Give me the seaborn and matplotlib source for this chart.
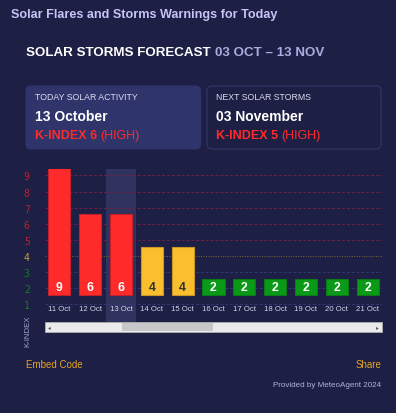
import matplotlib
matplotlib.use("Agg")
import matplotlib.pyplot as plt
from matplotlib.patches import FancyBboxPatch, Rectangle
import seaborn as sns

# data
dates = ['11 Oct', '12 Oct', '13 Oct', '14 Oct', '15 Oct', '16 Oct',
         '17 Oct', '18 Oct', '19 Oct', '20 Oct', '21 Oct']
kindex = [9, 6, 6, 4, 4, 2, 2, 2, 2, 2, 2]
levels = [1, 2, 3, 4, 5, 6, 7, 8, 9]
today_date = '13 October'
today_k = 6
next_date = '03 November'
next_k = 5

BG = '#1d1f44'
RED = '#ff2b2b'
YEL = '#fbbe2c'
GRN = '#0b9a18'
EDGE = {RED: '#c4202c', YEL: '#c9962a', GRN: '#0a7a16'}

def level_colour(k):
    if k >= 5:
        return RED
    if k == 4:
        return YEL
    return GRN

sns.set_theme(style='dark')
plt.rcParams['font.family'] = ['Liberation Sans', 'DejaVu Sans']

W, H = 396, 414
fig = plt.figure(figsize=(W / 100, H / 100), dpi=100)
fig.patch.set_facecolor(BG)

def fx(x):
    return x / W

def fy(y):
    return 1 - y / H

# header texts
fig.text(fx(11), fy(15), 'Solar Flares and Storms Warnings for Today', color='#c6c4f6',
         fontsize=9.1, fontweight='semibold', va='center')

renderer = fig.canvas.get_renderer()

def text_after(t, s, gap=3, **kw):
    bb = t.get_window_extent(renderer)
    x = (bb.x1 + gap) / W
    return fig.text(x, t.get_position()[1], s, va='center', **kw)

t = fig.text(fx(26), fy(53), 'SOLAR STORMS FORECAST', color='white', fontsize=9.6,
             fontweight='bold', va='center')
text_after(t, '03 OCT \u2013 13 NOV', gap=4, color='#a9addf', fontsize=9.6, fontweight='bold')

# info boxes
box1 = FancyBboxPatch((fx(26), fy(150)), fx(200.5) - fx(26), fy(87) - fy(150),
                      boxstyle='round,pad=0,rounding_size=0.012', transform=fig.transFigure,
                      facecolor='#2f346b', edgecolor='#2f346b', linewidth=0.8)
box2 = FancyBboxPatch((fx(207), fy(150)), fx(381) - fx(207), fy(87) - fy(150),
                      boxstyle='round,pad=0,rounding_size=0.012', transform=fig.transFigure,
                      facecolor=BG, edgecolor='#2f3466', linewidth=0.9)
fig.add_artist(box1)
fig.add_artist(box2)

for x0, head, date, k in [(35, 'TODAY SOLAR ACTIVITY', today_date, today_k),
                          (216, 'NEXT SOLAR STORMS', next_date, next_k)]:
    fig.text(fx(x0), fy(98), head, color='#dcdcf0', fontsize=6.3, va='center')
    fig.text(fx(x0), fy(117), date, color='white', fontsize=10, fontweight='bold', va='center')
    kt = fig.text(fx(x0), fy(136), f'K-INDEX {k}', color=RED, fontsize=9,
                  fontweight='bold', va='center')
    text_after(kt, '(HIGH)', gap=3, color=RED, fontsize=9)

# chart
ax = fig.add_axes([fx(45), fy(323), fx(382) - fx(45), fy(170) - fy(323)])
ax.set_facecolor(BG)

grid_cols = {1: '#2f3a6e', 2: '#2f3a6e', 3: '#2f3a6e', 4: '#7a6a30',
             5: '#6b2243', 6: '#6b2243', 7: '#6b2243', 8: '#6b2243', 9: '#6b2243'}
for lv in levels:
    ls = (0, (1, 1.5)) if lv == 4 else (0, (3, 2))
    ax.axhline(lv, color=grid_cols[lv], lw=0.7, linestyle=ls, zorder=1)

colours = [level_colour(k) for k in kindex]
base = 1.58
heights = [k - 1 for k in kindex]
sns.barplot(x=dates, y=heights, hue=dates, palette=colours, legend=False,
            width=0.715, bottom=base, saturation=1, ax=ax, zorder=2, linewidth=0.8)
for p, c in zip(ax.patches, colours):
    p.set_edgecolor(EDGE[c])

# highlight of today's column
ax.axvspan(1.5, 2.5, color='#363a66', alpha=0.75, zorder=0, lw=0)
ax.set_xlim(-0.47, 10.47)
ax.set_ylim(-0.1, 9.4)

for i, k in enumerate(kindex):
    tc = '#333333' if colours[i] == YEL else 'white'
    ax.text(i, 2.07, str(k), ha='center', va='center', color=tc, fontsize=8.8,
            fontweight='bold', zorder=3)
    ax.text(i, 0.72, dates[i], ha='center', va='center', color='#d2d5ee', fontsize=5.6,
            zorder=3)

ax.set_xticks([])
ax.set_yticks(levels)
ax.set_yticklabels([str(v) for v in levels], family='DejaVu Sans Mono', fontsize=7)
for lbl, lv in zip(ax.get_yticklabels(), levels):
    lbl.set_color('#b8222e' if lv >= 5 else ('#c9a23a' if lv == 4 else '#177a26'))
ax.tick_params(axis='y', length=0, pad=11)
ax.set_xlabel('')
ax.set_ylabel('')
for s in ax.spines.values():
    s.set_visible(False)
ax.grid(False)

# scrollbar
fig.add_artist(Rectangle((fx(45), fy(333)), fx(382) - fx(45), fy(323) - fy(333),
                         transform=fig.transFigure, facecolor='#eaeaea',
                         edgecolor='#b0b0b0', lw=0.6))
fig.add_artist(Rectangle((fx(122), fy(332)), fx(213) - fx(122), fy(324) - fy(332),
                         transform=fig.transFigure, facecolor='#c8c8c8', lw=0))
fig.text(fx(49), fy(328), '\u25c2', color='#555555', fontsize=4, ha='center', va='center',
         family='DejaVu Sans')
fig.text(fx(377), fy(328), '\u25b8', color='#555555', fontsize=4, ha='center', va='center',
         family='DejaVu Sans')

fig.text(fx(28), fy(331), 'K-INDEX', rotation=90, color='#a0a4d0', fontsize=5.6,
         ha='center', va='center')

# footer
fig.text(fx(26), fy(365), 'Embed Code', color='#e6a41f', fontsize=7, va='center')
fig.text(fx(381), fy(365), 'Share', color='#e6a41f', fontsize=7, va='center', ha='right')
fig.text(fx(381), fy(386), 'Provided by MeteoAgent 2024', color='#b0b3dc', fontsize=5.8,
         va='center', ha='right')

fig.savefig('out.png', dpi=100, facecolor=BG)
